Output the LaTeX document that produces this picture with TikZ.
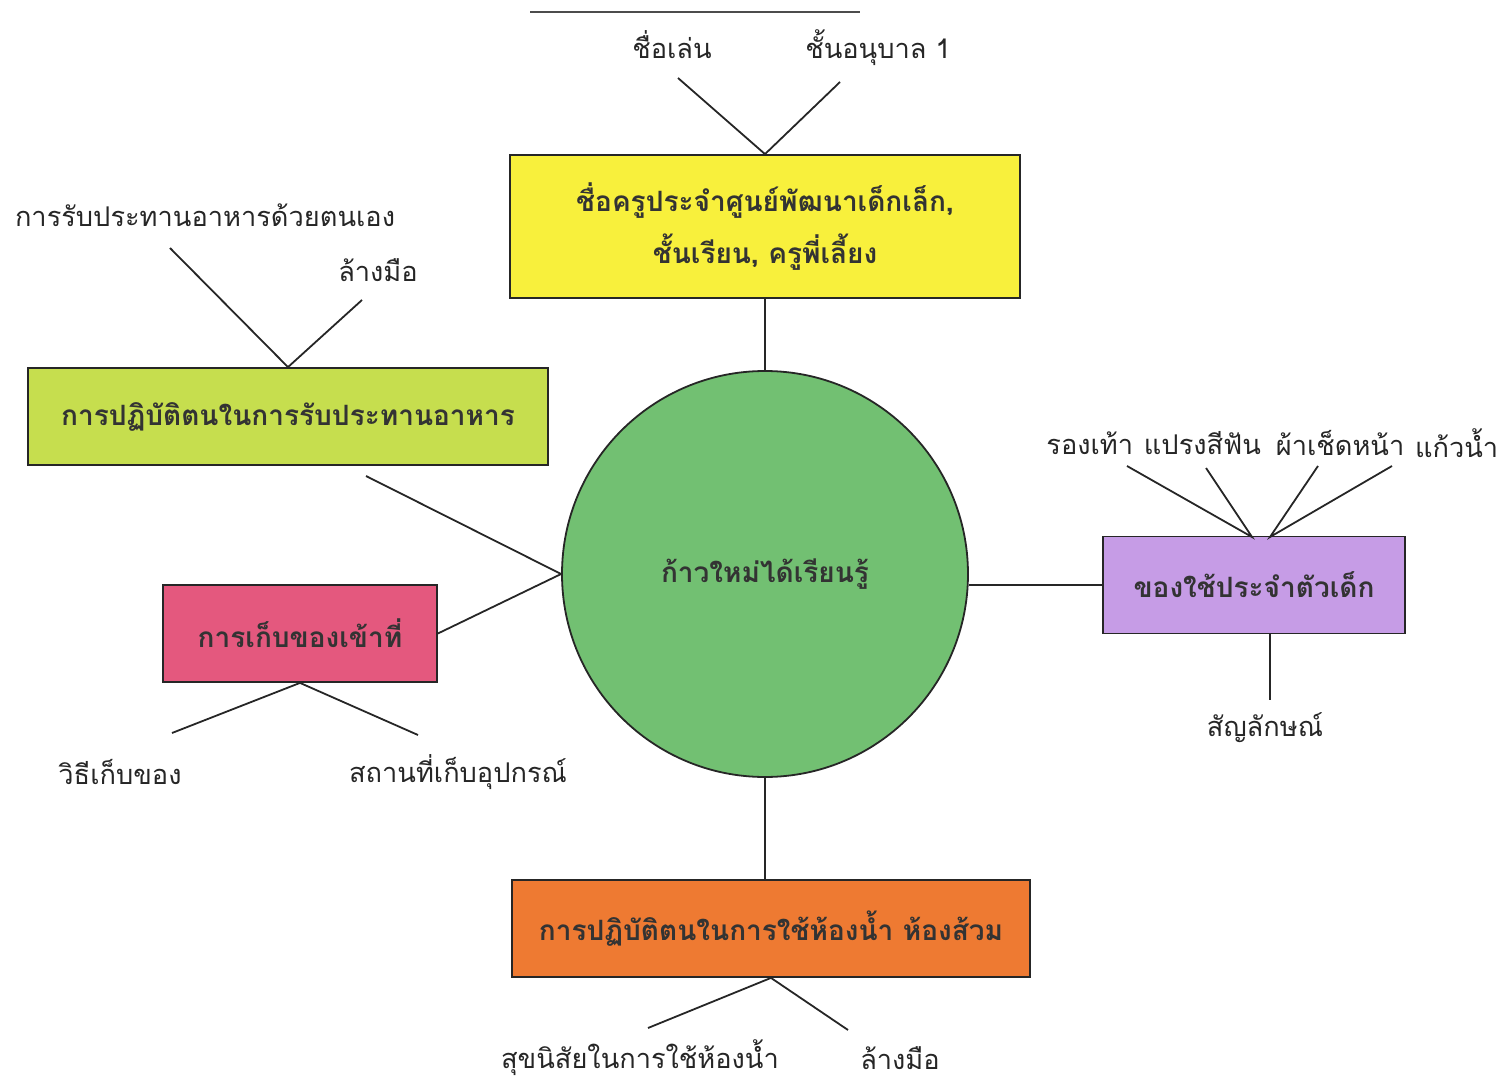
\documentclass[tikz,border=0pt]{standalone}
\usepackage{fontspec}
\usetikzlibrary{positioning}
\newfontfamily\thai[Script=Thai]{Loma}
\definecolor{cyel}{HTML}{F8F03C}
\definecolor{clgr}{HTML}{C6DE4E}
\definecolor{cpink}{HTML}{E4587E}
\definecolor{cpur}{HTML}{C69CE6}
\definecolor{corg}{HTML}{EE7A32}
\definecolor{ccir}{HTML}{72C072}
\begin{document}
\begin{tikzpicture}[x=0.5pt,y=-0.5pt,
  lbl/.style={font=\thai\fontsize{13.6}{16}\selectfont, inner sep=0pt, text=black!85},
  boxt/.style={draw=black!85, line width=0.9pt, font=\thai\bfseries\fontsize{14}{26}\selectfont, text=black!80, inner sep=2pt, align=center},
  conn/.style={draw=black!85, line width=0.9pt}]
\useasboundingbox (0,0) rectangle (1512,1081);
% boxes
\node[boxt, fill=cyel, minimum width=255pt, minimum height=71.5pt] (yb) at (765,226.5) {ชื่อครูประจำศูนย์พัฒนาเด็กเล็ก,\\ชั้นเรียน, ครูพี่เลี้ยง};
\node[boxt, fill=clgr, minimum width=260pt, minimum height=48.5pt] (gb) at (288,416.5) {การปฏิบัติตนในการรับประทานอาหาร};
\node[boxt, fill=cpink, minimum width=137pt, minimum height=48.5pt] (pb) at (300,633.5) {การเก็บของเข้าที่};
\node[boxt, fill=cpur, minimum width=151pt, minimum height=48.5pt] (ub) at (1254,585) {ของใช้ประจำตัวเด็ก};
\node[boxt, fill=corg, minimum width=259pt, minimum height=48.5pt] (ob) at (771,928.5) {การปฏิบัติตนในการใช้ห้องน้ำ ห้องส้วม};
\node[circle, draw=black!85, line width=0.9pt, fill=ccir, minimum size=203pt, inner sep=0pt, font=\thai\bfseries\fontsize{14}{18}\selectfont, text=black!80] (c) at (765,574) {ก้าวใหม่ได้เรียนรู้};
% labels
\node[lbl] (l1) at (672,45) {ชื่อเล่น};
\node[lbl] (l2) at (878,48) {ชั้นอนุบาล 1};
\node[lbl] (l3) at (205,215) {การรับประทานอาหารด้วยตนเอง};
\node[lbl] (l4) at (378,270) {ล้างมือ};
\node[lbl] (l5) at (120,772) {วิธีเก็บของ};
\node[lbl] (l6) at (458,772) {สถานที่เก็บอุปกรณ์};
\node[lbl, anchor=west] (l7) at (1046,443) {รองเท้า};
\node[lbl, right=5pt of l7] (l8) {แปรงสีฟัน};
\node[lbl, right=7pt of l8] (l9) {ผ้าเช็ดหน้า};
\node[lbl, right=5pt of l9] (l10) {แก้วน้ำ};
\node[lbl] (l11) at (1265,728) {สัญลักษณ์};
\node[lbl] (l12) at (640,1058) {สุขนิสัยในการใช้ห้องน้ำ};
\node[lbl] (l13) at (900,1058) {ล้างมือ};
% free ends
\coordinate (t1) at (530,12);
\coordinate (t2) at (860,12);
\coordinate (a1) at (678,78);
\coordinate (a2) at (840,82);
\coordinate (b1) at (170,248);
\coordinate (b2) at (362,300);
\coordinate (gl) at (366,476);
\coordinate (d1) at (172,733);
\coordinate (d2) at (418,735);
\coordinate (e1) at (1127,466);
\coordinate (e2) at (1206,468);
\coordinate (e3) at (1318,466);
\coordinate (e4) at (1392,466);
\coordinate (pj1) at (1252,537);
\coordinate (pj2) at (1270,537);
\coordinate (f1) at (1270,700);
\coordinate (h1) at (648,1028);
\coordinate (h2) at (848,1030);
% connectors
\draw[conn, line width=1.2pt, draw=black!70] (t1) -- (t2);
\draw[conn] (a1) -- (yb.north) -- (a2);
\draw[conn] (yb.south) -- (yb.south |- c.north);
\draw[conn] (b1) -- (gb.north) -- (b2);
\draw[conn] (gl) -- (c.west);
\draw[conn] (pb.east) -- (c.west);
\draw[conn] (d1) -- (pb.south) -- (d2);
\draw[conn] (c.east |- ub.west) -- (ub.west);
\draw[conn] (e1) -- (pj1) -- (e2);
\draw[conn] (e3) -- (pj2) -- (e4);
\draw[conn] (pj2 |- ub.south) -- (f1);
\draw[conn] (c.south) -- (c.south |- ob.north);
\draw[conn] (h1) -- (ob.south) -- (h2);
\end{tikzpicture}
\end{document}
